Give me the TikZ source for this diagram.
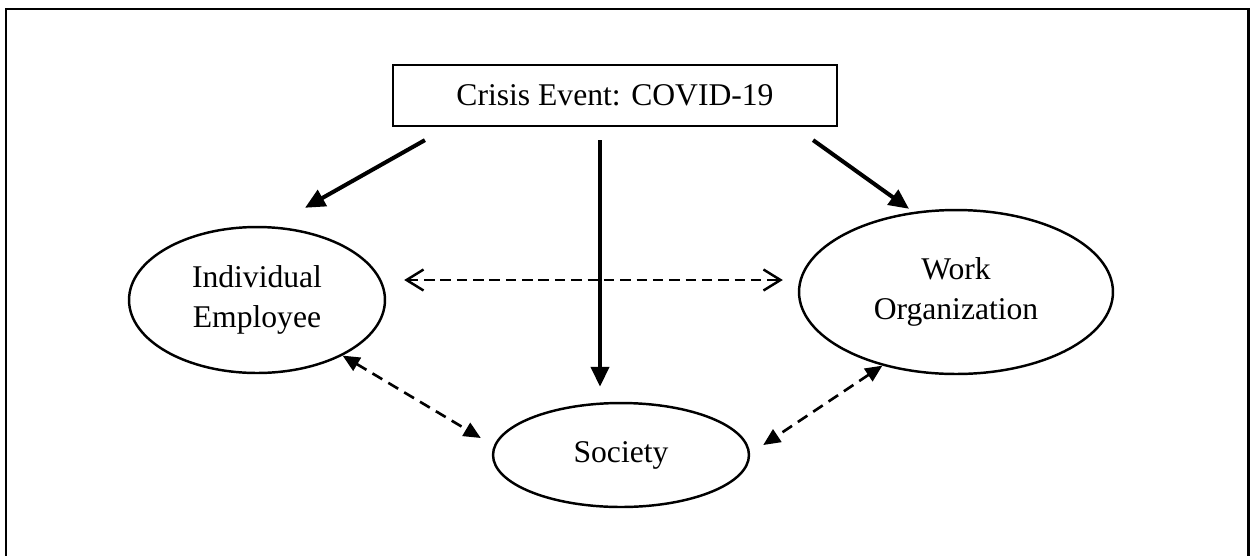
\documentclass[tikz,border=0pt]{standalone}
\usepackage{fontspec}
\setmainfont{Liberation Serif}
\usetikzlibrary{arrows.meta,shapes.geometric,calc}
\tikzset{
  boxnode/.style={draw, rectangle, line width=1.3pt, inner sep=0pt,
    minimum width=8.88cm, minimum height=1.22cm},
  ellnode/.style={draw, ellipse, line width=1.4pt, inner sep=0pt, align=center},
  solidarr/.style={line width=2.3pt, -{Triangle[length=0.4cm,width=0.36cm]}},
  dasharr/.style={line width=1.5pt, dash pattern=on 6.5pt off 4pt,
    {Triangle[length=0.34cm,width=0.3cm]}-{Triangle[length=0.34cm,width=0.3cm]}},
  openarr/.style={line width=1.4pt, dash pattern=on 6pt off 3.3pt,
    {Straight Barb[length=0.34cm,width=0.42cm]}-{Straight Barb[length=0.34cm,width=0.42cm]}},
  framebox/.style={draw, line width=1.4pt}
}
\begin{document}
\begin{tikzpicture}[x=0.02cm,y=-0.02cm, font=\fontsize{18}{22.4}\selectfont]
\clip (0,0) rectangle (1250,555);
\useasboundingbox (0,0) rectangle (1250,555);
\draw[framebox] (6,9) rectangle (1248.6,580);

\node[boxnode] (crisis) at (615,95.5) {Crisis Event: COVID-19};
\node[ellnode, minimum width=5.12cm, minimum height=2.92cm] (indiv) at (257,300) {Individual\\Employee};
\node[ellnode, minimum width=6.28cm, minimum height=3.28cm] (work) at (956,292) {Work\\Organization};
\node[ellnode, minimum width=5.12cm, minimum height=2.08cm] (society) at (621,455) {Society};

\draw[solidarr] ($(crisis.south west)+(33,13)$) -- ($(indiv.north)+(48,-18)$);
\draw[solidarr] ($(crisis.south)+(-15,13)$) -- ($(society.north)+(-21,-15)$);
\draw[solidarr] ($(crisis.south east)+(-25,13)$) -- ($(work.north)+(-47,0)$);

\draw[openarr] ($(indiv.east)+(18,-20)$) -- ($(work.west)+(-15,-12)$);
\draw[dasharr] (indiv.-33.5) -- ($(society.west)+(-11,-17)$);
\draw[dasharr] (work.225) -- ($(society.east)+(13,-10)$);
\end{tikzpicture}
\end{document}
